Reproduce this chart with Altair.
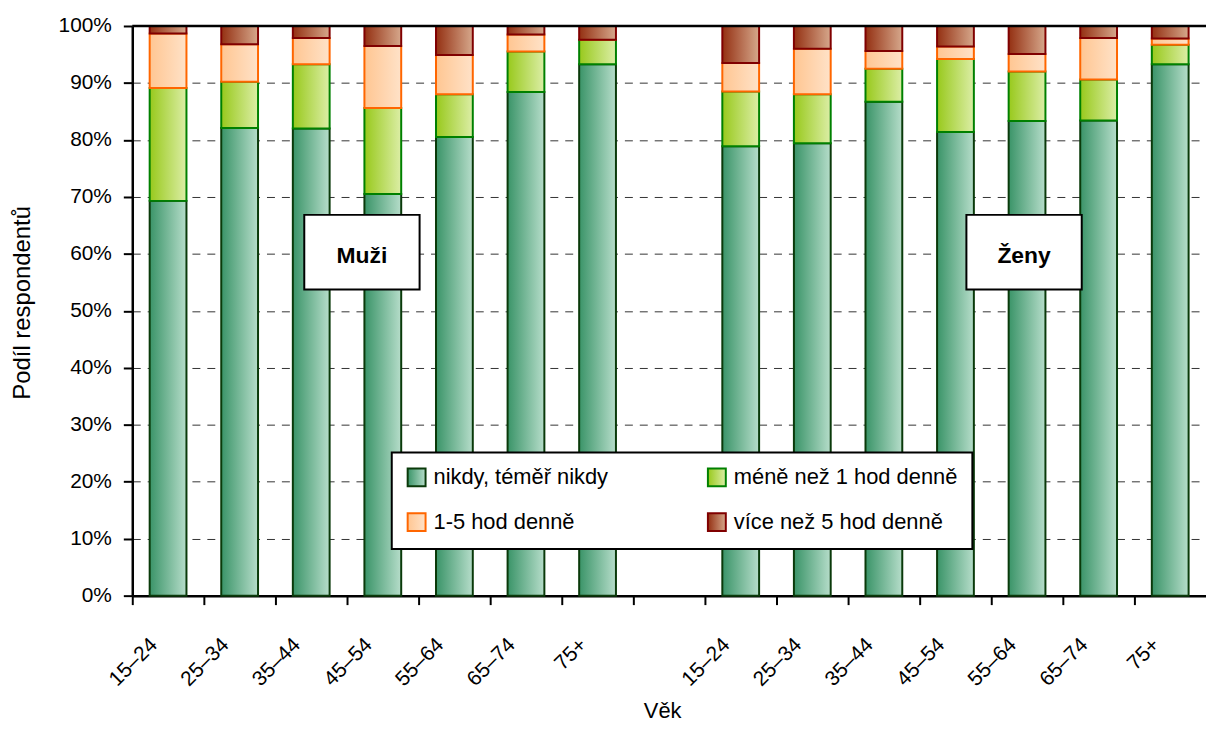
import json
import altair as alt
import pandas as pd

# ---- data ----
age_labels = ["15–24", "25–34", "35–44", "45–54", "55–64", "65–74", "75+"]
slot_labels = age_labels + [""] + age_labels          # slot 7 is the gap between Muži and Ženy
bar_slots = [0, 1, 2, 3, 4, 5, 6, 8, 9, 10, 11, 12, 13, 14]
series = ["nikdy, téměř nikdy", "méně než 1 hod denně", "1-5 hod denně", "více než 5 hod denně"]

never = [69.3, 82.1, 82.0, 70.5, 80.5, 88.4, 93.3, 78.9, 79.4, 86.7, 81.4, 83.3, 83.4, 93.3]
less1 = [19.8, 8.1, 11.3, 15.1, 7.5, 7.1, 4.3, 9.6, 8.6, 5.8, 12.8, 8.7, 7.2, 3.4]
h1to5 = [9.6, 6.6, 4.6, 10.9, 6.9, 3.0, 0.0, 5.0, 8.0, 3.1, 2.2, 3.1, 7.3, 1.1]
over5 = [1.3, 3.2, 2.1, 3.5, 5.1, 1.5, 2.4, 6.5, 4.0, 4.4, 3.6, 4.9, 2.1, 2.2]

grad_stops = [("#3a9468", "#b6ddca"), ("#98c91c", "#dceea6"), ("#ffc692", "#ffe2c8"), ("#943012", "#d6a88c")]
stroke_colors = ["#0a3a0a", "#008000", "#ff6600", "#800000"]

FONT = "Liberation Sans, Arial, sans-serif"

rows = []
for vals, name, k in zip([never, less1, h1to5, over5], series, range(4)):
    for s, v in zip(bar_slots, vals):
        rows.append({"slot": s, "series": name, "ord": k, "value": v / 100})
df = pd.DataFrame(rows)


def grad_expr(c0, c1):
    return alt.ExprRef(
        expr="{gradient: 'linear', x1: 0, y1: 0, x2: 1, y2: 0, stops: ["
        f"{{offset: 0, color: '{c0}'}}, {{offset: 1, color: '{c1}'}}]}}"
    )


label_expr = json.dumps(slot_labels, ensure_ascii=False) + "[datum.value]"

legend = alt.Legend(
    title=None, orient="none", legendX=261, legendY=429, columns=2, direction="horizontal",
    columnPadding=96, rowPadding=19, symbolType="square", symbolSize=324,
    symbolStrokeWidth=2, labelFontSize=22, labelFont=FONT, labelColor="black",
    labelOffset=6, labelLimit=400, padding=14, strokeColor="black", fillColor="white",
)

bars = alt.Chart(df).mark_bar(size=37, strokeWidth=2).encode(
    x=alt.X(
        "slot:O",
        scale=alt.Scale(domain=list(range(15)), paddingInner=0, paddingOuter=0),
        axis=alt.Axis(
            title="Věk", bandPosition=0, labelExpr=label_expr, labelAngle=315,
            labelAlign="right", labelBaseline="middle", labelOffset=-14, labelPadding=37,
            labelFontSize=21, labelFont=FONT, labelColor="black", labelOverlap=False,
            tickSize=9, tickWidth=2, tickColor="black", domainColor="black", domainWidth=2.5,
            titleFontSize=22, titleFont=FONT, titleFontWeight="normal", titleColor="black",
            titleX=533, titleY=123, titleBaseline="alphabetic", titleAlign="center",
        ),
    ),
    y=alt.Y(
        "value:Q", stack="zero",
        scale=alt.Scale(domain=[0, 1], nice=False),
        axis=alt.Axis(
            title="Podíl respondentů", values=[i / 10 for i in range(11)], format=".0%",
            grid=True, gridDash=[8, 7], gridColor="#333333", gridWidth=1,
            tickSize=9, tickWidth=2, tickColor="black", domainColor="black", domainWidth=2.5,
            labelFontSize=21, labelFont=FONT, labelColor="black", labelPadding=12,
            titleFontSize=24, titleFont=FONT, titleFontWeight="normal", titleColor="black",
            titleX=-110, titleY=278, titleAngle=270, titleAlign="center", titleBaseline="middle",
        ),
    ),
    fill=alt.Fill(
        "series:N",
        scale=alt.Scale(domain=series, range=[grad_expr(a, b) for a, b in grad_stops]),
        legend=legend,
    ),
    stroke=alt.Stroke(
        "series:N",
        scale=alt.Scale(domain=series, range=stroke_colors),
        legend=legend,
    ),
    order=alt.Order("ord:Q", sort="ascending"),
)

top_line = alt.Chart(alt.Data(values=[{"v": 1}])).mark_rule(color="black", strokeWidth=2.5).encode(
    y=alt.Y("v:Q")
)

one = alt.Data(values=[{"a": 1}])


def label_box(x0, text):
    box = alt.Chart(one).mark_rect(fill="white", stroke="black", strokeWidth=2).encode(
        x=alt.value(x0), x2=alt.value(x0 + 116), y=alt.value(190), y2=alt.value(265)
    )
    txt = alt.Chart(one).mark_text(
        text=text, font=FONT, fontSize=23, fontWeight="bold", color="black",
        align="center", baseline="alphabetic",
    ).encode(x=alt.value(x0 + 58), y=alt.value(238))
    return box + txt


chart = alt.layer(
    bars, top_line, label_box(173, "Muži"), label_box(839, "Ženy")
).properties(
    width=1080, height=573,
    autosize=alt.AutoSizeParams(type="none"),
    padding={"left": 125, "top": 16, "right": 0, "bottom": 126},
).configure_view(strokeWidth=0).configure_legend(strokeWidth=2)

chart.save("out.html", embed_options={"renderer": "svg", "actions": False})
